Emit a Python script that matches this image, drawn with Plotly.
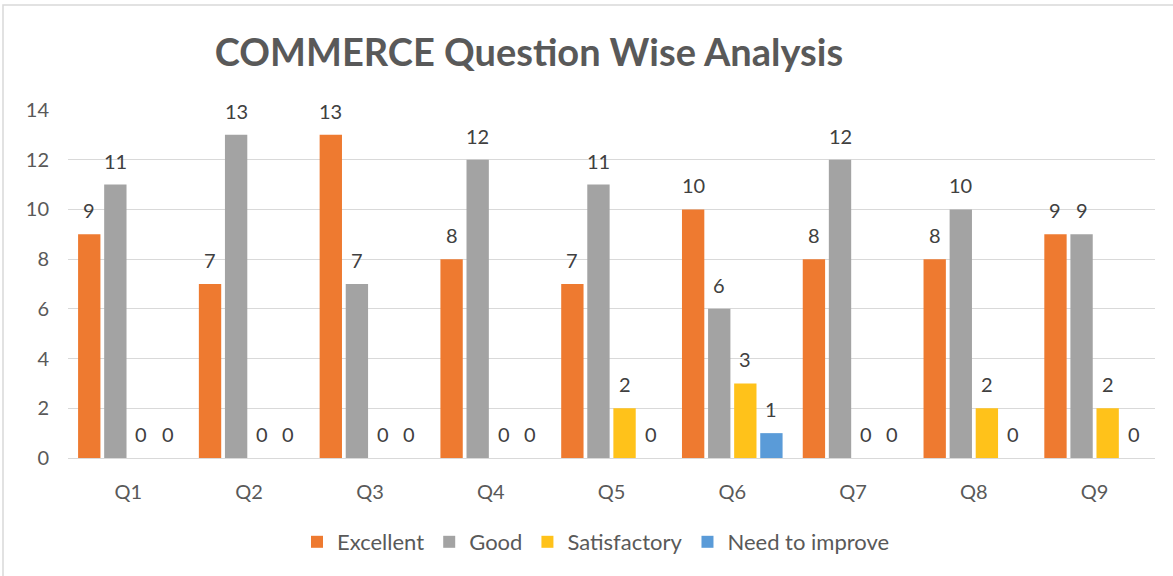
import plotly.graph_objects as go

categories = ["Q1", "Q2", "Q3", "Q4", "Q5", "Q6", "Q7", "Q8", "Q9"]
excellent = [9, 7, 13, 8, 7, 10, 8, 8, 9]
good = [11, 13, 7, 12, 11, 6, 12, 10, 9]
satisfactory = [0, 0, 0, 0, 2, 3, 0, 2, 2]
need_to_improve = [0, 0, 0, 0, 0, 1, 0, 0, 0]
y_ticks = [0, 2, 4, 6, 8, 10, 12, 14]

series = [
    ("Excellent", excellent, "#EE7A30"),
    ("Good", good, "#A3A3A3"),
    ("Satisfactory", satisfactory, "#FFC21A"),
    ("Need to improve", need_to_improve, "#5A9BD8"),
]

FONT = "Lato"
TXT = "#404040"
SLOT = 0.216
BARW = 0.185
GROUP_START = -2 * SLOT

W, H = 1173, 576
ML, MR, MT, MB = 68, 18, 110, 118
PW, PH = W - ML - MR, H - MT - MB

fig = go.Figure()
annotations = []
for i, (name, vals, color) in enumerate(series):
    off = GROUP_START + i * SLOT + (SLOT - BARW) / 2
    fig.add_trace(go.Bar(
        name=name, x=categories, y=vals,
        width=BARW, offset=off,
        marker=dict(color=color, line=dict(width=0)),
    ))
    for k, v in enumerate(vals):
        annotations.append(dict(
            x=k + off + BARW / 2, y=v, xref="x", yref="y",
            text=str(v), showarrow=False, yanchor="bottom", yshift=10,
            font=dict(family=FONT, size=20, color=TXT),
        ))

fig.update_layout(
    width=W, height=H,
    margin=dict(l=ML, r=MR, t=MT, b=MB, autoexpand=False),
    paper_bgcolor="white", plot_bgcolor="white",
    barmode="overlay",
    title=dict(text="<b>COMMERCE Question Wise Analysis</b>",
               font=dict(family=FONT, size=38, color="#595959"),
               x=529/W, xanchor="center", y=1-53/H, yanchor="middle"),
    legend=dict(orientation="h", x=(596-ML)/PW, xanchor="center",
                y=-(542-458)/PH, yanchor="middle",
                font=dict(family=FONT, size=22, color="#595959"),
                itemwidth=30, traceorder="normal"),
    showlegend=True,
    annotations=annotations,
)
fig.update_yaxes(range=[0, 14], tickvals=y_ticks, showgrid=True,
                 gridcolor="#D9D9D9", gridwidth=1, zeroline=False,
                 showline=False, ticks="outside", ticklen=14,
                 tickcolor="rgba(0,0,0,0)",
                 tickfont=dict(family=FONT, size=20, color="#595959"))
fig.update_xaxes(showline=True, linecolor="#D9D9D9", linewidth=1,
                 range=[-0.5, 8.5],
                 ticks="outside", ticklen=16, tickcolor="rgba(0,0,0,0)",
                 tickfont=dict(family=FONT, size=20, color="#595959"))

# outer chart border (right/bottom edges fall outside the visible area)
fig.add_shape(type="rect", xref="paper", yref="paper",
              x0=-(ML-3)/PW, x1=1+(MR+5)/PW,
              y0=-(MB+5)/PH, y1=1+(MT-5)/PH,
              line=dict(color="#D9D9D9", width=1.5), fillcolor="rgba(0,0,0,0)")

fig.write_html("out.html", config={"displayModeBar": False},
               post_script="document.body.style.margin='0px';")
